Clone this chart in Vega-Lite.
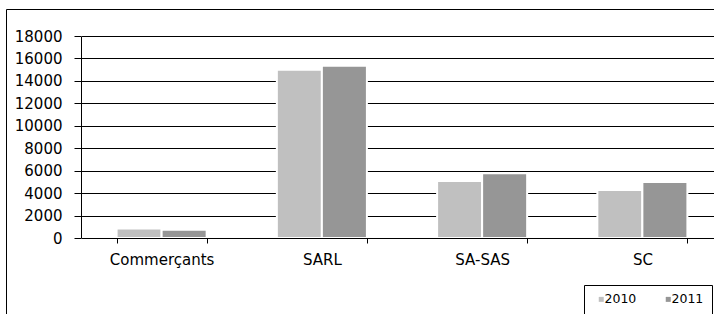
{
  "$schema": "https://vega.github.io/schema/vega-lite/v6.json",
  "autosize": {"type": "none"},
  "width": 708,
  "height": 305,
  "padding": {"left": 6, "top": 9, "right": 0, "bottom": 0},
  "background": "white",
  "config": {"view": {"stroke": null}, "font": "DejaVu Sans"},
  "data": {
    "values": [
      {"category": "Commerçants", "year": "2010", "value": 850},
      {"category": "Commerçants", "year": "2011", "value": 730},
      {"category": "SARL", "year": "2010", "value": 15000},
      {"category": "SARL", "year": "2011", "value": 15350},
      {"category": "SA-SAS", "year": "2010", "value": 5070},
      {"category": "SA-SAS", "year": "2011", "value": 5780},
      {"category": "SC", "year": "2010", "value": 4270},
      {"category": "SC", "year": "2011", "value": 4980}
    ]
  },
  "layer": [
    {
      "mark": {"type": "bar", "stroke": "white", "strokeWidth": 2},
      "encoding": {
        "x": {
          "field": "category",
          "type": "nominal",
          "sort": null,
          "scale": {"range": [75.5, 716.5], "paddingInner": 0.438, "paddingOuter": 0.219},
          "axis": {
            "title": null,
            "orient": "bottom",
            "offset": -76,
            "tickBand": "extent",
            "tickSize": 5,
            "labelAngle": 0,
            "labelFontSize": 15,
            "labelColor": "black",
            "labelPadding": 9,
            "domainColor": "black",
            "tickColor": "black",
            "grid": false,
            "zindex": 1
          }
        },
        "xOffset": {"field": "year", "type": "nominal", "scale": {"paddingInner": 0, "paddingOuter": 0}},
        "y": {
          "field": "value",
          "type": "quantitative",
          "scale": {"domain": [0, 18000], "range": [229, 27], "nice": false},
          "axis": {
            "title": null,
            "orient": "left",
            "offset": -75,
            "values": [0, 2000, 4000, 6000, 8000, 10000, 12000, 14000, 16000, 18000],
            "format": "d",
            "tickSize": 7,
            "labelPadding": 12,
            "labelFontSize": 15,
            "labelColor": "black",
            "grid": true,
            "gridColor": "black",
            "gridOpacity": 1,
            "domainColor": "black",
            "tickColor": "black"
          }
        },
        "color": {
          "field": "year",
          "type": "nominal",
          "scale": {"range": ["#c0c0c0", "#969696"]},
          "legend": {
            "orient": "none",
            "legendX": 578,
            "legendY": 276,
            "direction": "horizontal",
            "title": null,
            "strokeColor": "black",
            "fillColor": "white",
            "padding": 8,
            "symbolType": "square",
            "symbolSize": 25,
            "symbolStrokeWidth": 0,
            "symbolOffset": 3,
            "labelFontSize": 12.5,
            "labelColor": "black",
            "labelOffset": -3,
            "columnPadding": 22
          }
        }
      }
    },
    {
      "mark": {"type": "point", "opacity": 0},
      "encoding": {
        "x": {
          "field": "value",
          "type": "quantitative",
          "axis": {"orient": "top", "title": null, "labels": false, "ticks": false, "grid": false, "domainColor": "black"}
        },
        "y": {
          "field": "value",
          "type": "quantitative",
          "axis": {"orient": "left", "title": null, "labels": false, "ticks": false, "grid": false, "domainColor": "black"}
        }
      }
    }
  ],
  "resolve": {"scale": {"x": "independent", "y": "independent"}}
}
